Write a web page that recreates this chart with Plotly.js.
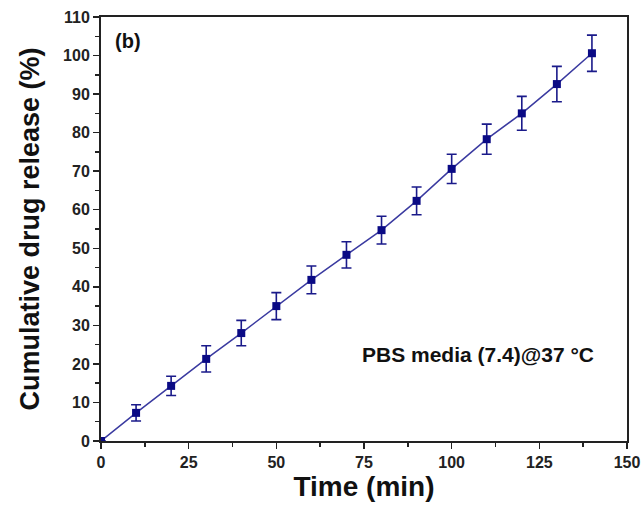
<!DOCTYPE html>
<html>
<head>
<meta charset="utf-8">
<script src="https://cdn.plot.ly/plotly-3.0.1.min.js"></script>
<style>html,body{margin:0;padding:0;background:#fff;}#chart{width:641px;height:517px;}</style>
</head>
<body>
<div id="chart"></div>
<script>
const timeMin = [0, 10, 20, 30, 40, 50, 60, 70, 80, 90, 100, 110, 120, 130, 140];
const release = [0, 7.3, 14.3, 21.3, 28, 35, 41.8, 48.3, 54.7, 62.3, 70.6, 78.3, 85, 92.6, 100.6];
const releaseErr = [0, 2.1, 2.5, 3.4, 3.3, 3.5, 3.6, 3.4, 3.6, 3.6, 3.8, 3.9, 4.4, 4.6, 4.7];
const xTicks = [0, 25, 50, 75, 100, 125, 150];
const yTicks = [0, 10, 20, 30, 40, 50, 60, 70, 80, 90, 100, 110];

const fontFam = '"Liberation Sans", Arial, sans-serif';

const trace = {
  x: timeMin, y: release, type: 'scatter', mode: 'lines+markers',
  line: {color: '#3a3aa0', width: 1.5},
  marker: {symbol: 'square', size: 8, color: '#0a0a85'},
  error_y: {type: 'data', array: releaseErr, visible: true, color: '#1a1a8a', thickness: 1.6, width: 5},
  showlegend: false
};

const axisCommon = {
  showline: true, linecolor: '#222', linewidth: 2, mirror: true,
  ticks: 'outside', ticklen: 6, tickwidth: 1.5, tickcolor: '#222',
  showgrid: false, zeroline: false,
  tickfont: {family: fontFam, size: 16, color: '#222', weight: 'bold'}
};

const layout = {
  width: 641, height: 517,
  margin: {l: 101, r: 14, t: 17, b: 76},
  paper_bgcolor: '#fff', plot_bgcolor: '#fff',
  xaxis: Object.assign({}, axisCommon, {
    range: [0, 150], tickvals: xTicks,
    minor: {ticks: 'outside', ticklen: 4, dtick: 12.5, tick0: 0, tickwidth: 1.5, tickcolor: '#222'},
    title: {text: 'Time (min)', font: {family: fontFam, size: 28, color: '#111', weight: 'bold'}, standoff: 5}
  }),
  yaxis: Object.assign({}, axisCommon, {
    range: [0, 110], tickvals: yTicks,
    minor: {ticks: 'outside', ticklen: 4, dtick: 5, tick0: 0, tickwidth: 1.5, tickcolor: '#222'},
    title: {text: 'Cumulative drug release (%)', font: {family: fontFam, size: 27, color: '#111', weight: 'bold'}, standoff: 16}
  }),
  annotations: [
    {xref: 'paper', yref: 'paper', x: 0.022, y: 0.944, xanchor: 'left', yanchor: 'middle',
     text: '<b>(b)</b>', showarrow: false, font: {family: fontFam, size: 20, color: '#111'}},
    {xref: 'paper', yref: 'paper', x: 0.942, y: 0.205, xanchor: 'right', yanchor: 'middle',
     text: '<b>PBS media (7.4)@37 °C</b>', showarrow: false, font: {family: fontFam, size: 21, color: '#111'}}
  ]
};

Plotly.newPlot('chart', [trace], layout, {displayModeBar: false, staticPlot: true});
</script>
</body>
</html>
